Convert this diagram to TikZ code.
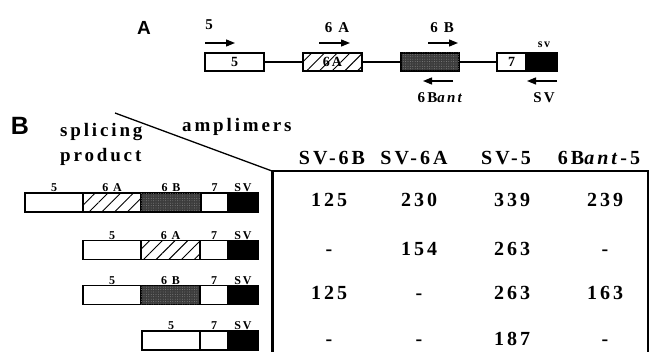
\documentclass[tikz,border=0pt]{standalone}
\usepackage{fontspec}
\setmainfont{Liberation Serif}[LetterSpace=15]
\newfontfamily\panelfont{Liberation Sans}
\usetikzlibrary{arrows.meta,positioning,patterns.meta}
\definecolor{exdot}{HTML}{3C3C3C}
\definecolor{exspeck}{HTML}{8A8A8A}

\begin{document}
\begin{tikzpicture}[x=1pt,y=-1pt,
  exon/.style={draw=black,line width=1.3pt,minimum height=18pt,inner sep=0pt,outer sep=0pt,
               font=\fontsize{14}{14}\selectfont\bfseries},
  seg/.style={exon,minimum height=19pt},
  hatch/.style={pattern={Lines[angle=45,distance=9pt,line width=0.9pt]}},
  stipple/.style={fill=exdot,postaction={pattern={Dots[distance=2.4pt,radius=0.45pt]},pattern color=exspeck}},
  svfill/.style={fill=black},
  primer/.style={line width=1.3pt,-{Triangle[length=9pt,width=7pt]}},
  plbl/.style={font=\fontsize{15}{15}\selectfont\bfseries,inner sep=0pt},
  seglbl/.style={font=\fontsize{12}{12}\selectfont\bfseries,inner sep=1pt},
  headtxt/.style={font=\fontsize{19}{25}\selectfont\bfseries,inner sep=0pt},
  cell/.style={font=\fontsize{20}{20}\selectfont\bfseries,inner sep=0pt,anchor=base}]
\useasboundingbox (0,0) rectangle (650,352);

% A: gene with primers
\node[font=\fontsize{19}{19}\selectfont\panelfont\bfseries] (pa) at (144,28) {A};
\node[exon,minimum width=59pt] (ex5) at (234.5,62) {5};
\node[exon,hatch,minimum width=59pt] (ex6a) at (332.5,62) {6A};
\node[exon,stipple,minimum width=58pt] (ex6b) at (430,62) {};
\node[exon,minimum width=29pt] (ex7) at (511.5,62) {7};
\node[exon,svfill,minimum width=31pt,right=0pt of ex7] (exsv) {};
\draw[line width=1.1pt] (ex5) -- (ex6a) -- (ex6b) -- (ex7);

\draw[primer] ([shift={(0,-10)}]ex5.north west) -- ++(30,0);
\draw[primer] ([shift={(16,-10)}]ex6a.north west) -- ++(31,0);
\draw[primer] ([shift={(-31,-10)}]ex6b.north east) -- ++(30,0);
\draw[primer] ([shift={(-6,10)}]ex6b.south east) -- ++(-30,0);
\draw[primer] ([shift={(0,10)}]exsv.south east) -- ++(-30,0);
\node[plbl] (l5) at (209,25) {5};
\node[plbl] (l6a) at (337,28) {6 A};
\node[plbl] (l6b) at (442,28) {6 B};
\node[seglbl] (lsv) at (544,45) {sv};
\node[plbl] (l6bant) at (441,98) {6B\textit{ant}};
\node[plbl] (lsvr) at (544,98) {SV};

% B: table of products
\node[font=\fontsize{25}{25}\selectfont\panelfont\bfseries] (pb) at (20,126) {B};
\node[headtxt,align=left,anchor=base west] (prod) at (60,162) {splicing\\product};
\node[headtxt,anchor=base west] (ampl) at (182,132) {amplimers};
\coordinate (dg) at (115,113);
\coordinate (tl) at (272,171);
\coordinate (tr) at (648,171);
\coordinate (bl) at (272,352);
\coordinate (br) at (648,352);
\draw[line width=1.3pt] (dg) -- (tl);
\draw[line width=3pt] (tl) -- (bl);
\draw[line width=1.3pt] (tl) -- (tr) -- (br);

\node[cell] (h1) at (332,165) {SV-6B};
\node[cell] (h2) at (414,165) {SV-6A};
\node[cell] (h3) at (506,165) {SV-5};
\node[cell] (h4) at (599,165) {6B\textit{ant}-5};

\foreach \y/\a/\b/\c/\d [count=\r] in {207/125/230/339/239, 256/-/154/263/-,
                                       300/125/-/263/163, 345/-/-/187/-}{
  \node[cell] (v\r a) at (329,\y) {\a};
  \node[cell] (v\r b) at (419,\y) {\b};
  \node[cell] (v\r c) at (512,\y) {\c};
  \node[cell] (v\r d) at (605,\y) {\d};
}

% products
\node[seg,minimum width=58pt,anchor=west,label={[seglbl]above:5}] (p1e5) at (25,202.5) {};
\node[seg,hatch,minimum width=58pt,right=0pt of p1e5,label={[seglbl]above:6 A}] (p1e6a) {};
\node[seg,stipple,minimum width=60pt,right=0pt of p1e6a,label={[seglbl]above:6 B}] (p1e6b) {};
\node[seg,minimum width=27pt,right=0pt of p1e6b,label={[seglbl]above:7}] (p1e7) {};
\node[seg,svfill,minimum width=30pt,right=0pt of p1e7,label={[seglbl]above:SV}] (p1sv) {};

\node[seg,minimum width=58pt,anchor=west,label={[seglbl]above:5}] (p2e5) at (83,250) {};
\node[seg,hatch,minimum width=59pt,right=0pt of p2e5,label={[seglbl]above:6 A}] (p2e6a) {};
\node[seg,minimum width=28pt,right=0pt of p2e6a,label={[seglbl]above:7}] (p2e7) {};
\node[seg,svfill,minimum width=30pt,right=0pt of p2e7,label={[seglbl]above:SV}] (p2sv) {};

\node[seg,minimum width=58pt,anchor=west,label={[seglbl]above:5}] (p3e5) at (83,295) {};
\node[seg,stipple,minimum width=59pt,right=0pt of p3e5,label={[seglbl]above:6 B}] (p3e6b) {};
\node[seg,minimum width=28pt,right=0pt of p3e6b,label={[seglbl]above:7}] (p3e7) {};
\node[seg,svfill,minimum width=30pt,right=0pt of p3e7,label={[seglbl]above:SV}] (p3sv) {};

\node[seg,minimum width=58pt,anchor=west,label={[seglbl]above:5}] (p4e5) at (142,340.5) {};
\node[seg,minimum width=28pt,right=0pt of p4e5,label={[seglbl]above:7}] (p4e7) {};
\node[seg,svfill,minimum width=30pt,right=0pt of p4e7,label={[seglbl]above:SV}] (p4sv) {};
\end{tikzpicture}
\end{document}
